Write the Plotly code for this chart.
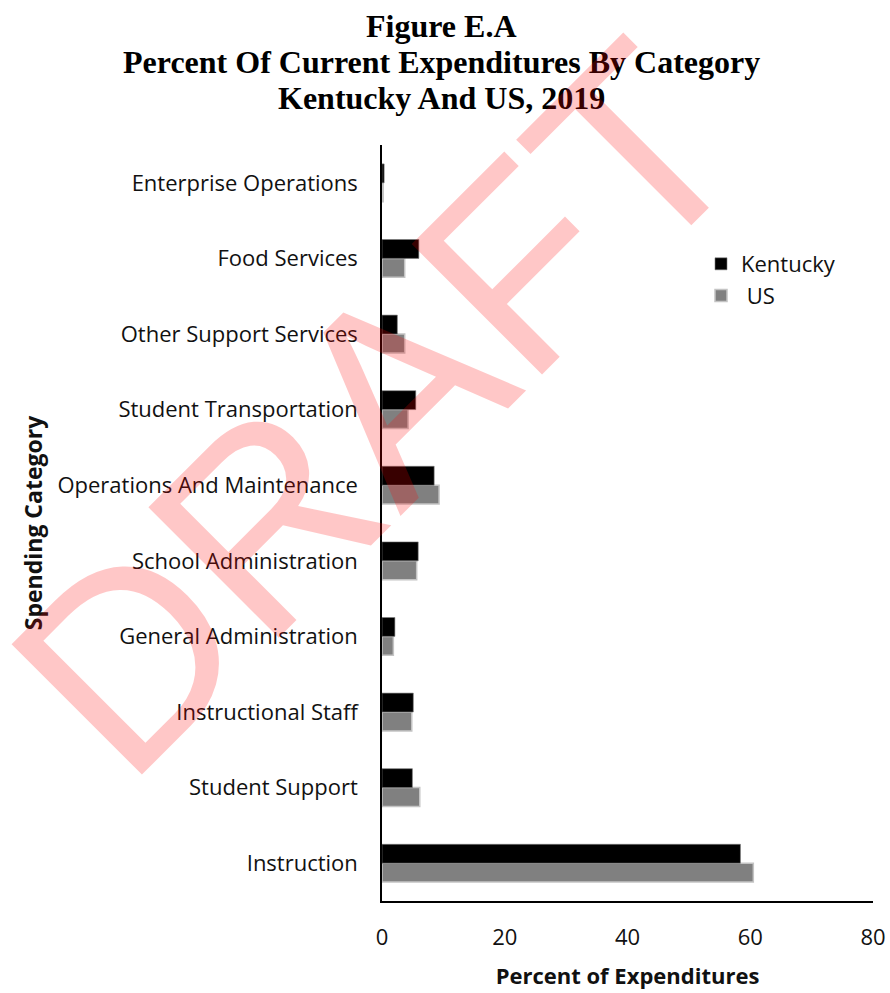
import plotly.graph_objects as go

# Spending categories, listed bottom to top as drawn on the y axis
categories = [
    "Instruction",
    "Student Support",
    "Instructional Staff",
    "General Administration",
    "School Administration",
    "Operations And Maintenance",
    "Student Transportation",
    "Other Support Services",
    "Food Services",
    "Enterprise Operations",
]

# Percent of current expenditures, 2019
kentucky = [58.4, 4.95, 5.1, 2.1, 5.9, 8.5, 5.5, 2.5, 6.0, 0.35]
us = [60.5, 6.15, 4.85, 1.85, 5.65, 9.3, 4.25, 3.7, 3.7, 0.2]

x_ticks = [0, 20, 40, 60, 80]

title_lines = [
    "Figure E.A",
    "Percent Of Current Expenditures By Category",
    "Kentucky And US, 2019",
]

W, H = 890, 993
M_L, M_R, M_T, M_B = 382, 17, 145, 92
PLOT_W = W - M_L - M_R
PLOT_H = H - M_T - M_B


def px_to_paper(px, py):
    """Page pixel position -> paper coordinates of the plot area."""
    return (px - M_L) / PLOT_W, (H - M_B - py) / PLOT_H


fig = go.Figure()

# US first so it sits below Kentucky inside each group
fig.add_trace(go.Bar(
    name=" US",
    y=categories,
    x=us,
    orientation="h",
    marker=dict(color="#808080", line=dict(color="#c4c4c4", width=1.5)),
))
fig.add_trace(go.Bar(
    name="Kentucky",
    y=categories,
    x=kentucky,
    orientation="h",
    marker=dict(color="#000000", line=dict(color="#7a7a7a", width=0.6)),
))

label_font = dict(family="Open Sans", size=22, color="#111111")
x_title_font = dict(family="Open Sans", size=22, color="#111111")
y_title_font = dict(family="Open Sans", size=23, color="#111111")

lx, ly = px_to_paper(701, 243)
fig.update_layout(
    width=W,
    height=H,
    margin=dict(l=M_L, r=M_R, t=M_T, b=M_B),
    paper_bgcolor="white",
    plot_bgcolor="white",
    barmode="group",
    bargap=0.5,
    bargroupgap=0,
    showlegend=True,
    legend=dict(
        traceorder="reversed",
        x=lx,
        y=ly,
        xanchor="left",
        yanchor="top",
        font=label_font,
        bgcolor="rgba(0,0,0,0)",
        itemwidth=30,
    ),
    xaxis=dict(
        range=[0, 80],
        tickvals=x_ticks,
        ticktext=[str(v) for v in x_ticks],
        showgrid=False,
        zeroline=False,
        showline=True,
        linecolor="#000000",
        linewidth=1.5,
        ticks="",
        ticklabelstandoff=16,
        tickfont=label_font,
        automargin=False,
        title=dict(
            text="<b>Percent of Expenditures</b>",
            font=x_title_font,
            standoff=18,
        ),
    ),
    yaxis=dict(
        categoryorder="array",
        categoryarray=categories,
        showgrid=False,
        zeroline=False,
        showline=True,
        linecolor="#000000",
        linewidth=1.5,
        ticks="",
        ticklabelstandoff=18,
        tickfont=label_font,
        automargin=False,
        title=dict(
            text="<b>Spending Category</b>",
            font=y_title_font,
            standoff=8,
        ),
    ),
)

# Three-line bold serif heading
for line, base_y in zip(title_lines, [35, 71.5, 107]):
    tx, ty = px_to_paper(441, base_y - 9)
    fig.add_annotation(
        text="<b>" + line + "</b>",
        xref="paper",
        yref="paper",
        x=tx,
        y=ty,
        xanchor="center",
        yanchor="middle",
        showarrow=False,
        font=dict(family="Liberation Serif", size=32, color="#000000"),
    )

# Translucent red watermark across the chart
wx, wy = px_to_paper(376, 409)
fig.add_annotation(
    text="DRAFT",
    xref="paper",
    yref="paper",
    x=wx,
    y=wy,
    xanchor="center",
    yanchor="middle",
    showarrow=False,
    textangle=-45,
    font=dict(family="Liberation Sans", size=268, color="rgba(255,0,0,0.22)"),
)

fig.write_html("out.html")
